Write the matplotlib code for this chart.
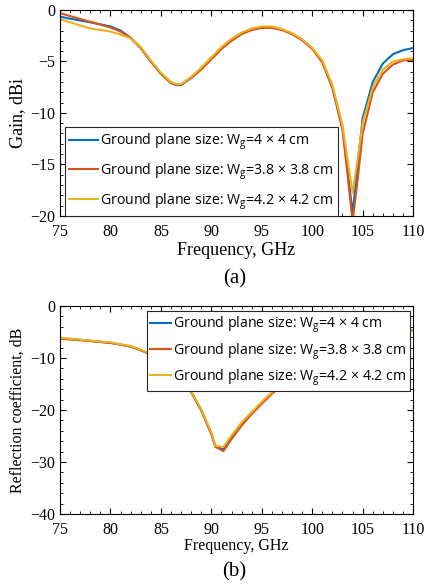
import matplotlib
matplotlib.use("Agg")
import matplotlib.pyplot as plt
from matplotlib.ticker import MultipleLocator

plt.rcParams['font.family'] = ['Liberation Serif', 'DejaVu Serif']
plt.rcParams['mathtext.fontset'] = 'custom'
plt.rcParams['mathtext.rm'] = 'Open Sans'
plt.rcParams['mathtext.it'] = 'Open Sans'

# gain, dBi
freq_gain = [75, 76, 78, 80, 81, 82, 83, 84, 85, 86, 86.5, 87, 88, 89, 90, 91, 92, 93, 94, 95, 96,
             97, 98, 99, 100, 101, 102, 103, 103.5, 104, 104.5, 105, 106, 107, 108, 109, 110]
gain_40 = [-0.65, -0.85, -1.2, -1.6, -2.0, -2.7, -3.7, -5.0, -6.2, -7.1, -7.3, -7.3, -6.6, -5.7, -4.7,
           -3.7, -2.9, -2.3, -1.9, -1.7, -1.7, -1.9, -2.3, -2.9, -3.7, -5.0, -7.5, -11.5, -15.5, -19.8,
           -15.0, -10.5, -7.0, -5.2, -4.3, -3.9, -3.7]
gain_38 = [-0.3, -0.6, -1.15, -1.7, -2.1, -2.7, -3.7, -5.0, -6.2, -7.1, -7.25, -7.25, -6.6, -5.8, -4.8,
           -3.8, -3.0, -2.35, -1.95, -1.75, -1.75, -1.95, -2.35, -2.95, -3.8, -5.1, -7.6, -11.6, -16.0, -20.5,
           -16.5, -12.0, -8.0, -6.2, -5.3, -4.9, -4.85]
gain_42 = [-0.9, -1.2, -1.8, -2.1, -2.4, -2.75, -3.6, -4.9, -6.1, -7.0, -7.2, -7.2, -6.5, -5.6, -4.6,
           -3.6, -2.8, -2.2, -1.8, -1.6, -1.6, -1.85, -2.25, -2.85, -3.7, -4.9, -7.3, -11.2, -14.5, -17.8,
           -14.5, -11.0, -7.5, -5.8, -5.0, -4.8, -4.7]

# reflection coefficient, dB
freq_refl = [75, 77, 80, 82, 83, 85, 86, 87, 88, 89, 90, 90.4, 91.2, 92, 93, 94, 95, 96, 97, 98,
             100, 102, 104, 106, 108, 110]
refl_40 = [-6.2, -6.5, -7.1, -7.8, -8.5, -10.2, -11.8, -14.0, -16.5, -20.0, -24.5, -27.0, -27.6, -25.3,
           -22.7, -20.6, -18.6, -16.7, -15.0, -13.4, -10.6, -8.4, -6.8, -5.7, -5.0, -4.6]
refl_38 = [-6.3, -6.6, -7.1, -7.8, -8.5, -10.2, -11.8, -14.0, -16.6, -20.1, -24.7, -27.1, -27.9, -25.6,
           -23.0, -20.8, -18.8, -16.9, -15.2, -13.6, -10.8, -8.5, -6.9, -5.8, -5.1, -4.7]
refl_42 = [-6.1, -6.5, -7.0, -7.7, -8.4, -10.1, -11.7, -13.9, -16.4, -19.9, -24.3, -26.9, -27.1, -24.9,
           -22.4, -20.4, -18.4, -16.6, -14.9, -13.3, -10.5, -8.3, -6.7, -5.6, -4.9, -4.6]

labels = [r'Ground plane size: W$_\mathrm{g}$=4 × 4 cm',
          r'Ground plane size: W$_\mathrm{g}$=3.8 × 3.8 cm',
          r'Ground plane size: W$_\mathrm{g}$=4.2 × 4.2 cm']
colors = ['#0072BD', '#D95319', '#EDB120']


def style_axes(ax):
    ax.tick_params(which='both', direction='in', top=True, right=True, labelsize=11.5)
    ax.tick_params(axis='x', which='major', pad=6)
    ax.tick_params(which='major', length=4.5)
    ax.tick_params(which='minor', length=2.5)
    ax.xaxis.set_major_locator(MultipleLocator(5))
    ax.xaxis.set_minor_locator(MultipleLocator(1))
    for s in ax.spines.values():
        s.set_linewidth(0.8)


fig = plt.figure(figsize=(4.27, 5.85), dpi=100)

ax1 = fig.add_axes([0.1405, 0.631, 0.827, 0.352])
for y, c, l in zip([gain_40, gain_38, gain_42], colors, labels):
    ax1.plot(freq_gain, y, color=c, lw=1.5, label=l)
ax1.set_xlim(75, 110)
ax1.set_ylim(-20, 0)
ax1.yaxis.set_major_locator(MultipleLocator(5))
ax1.yaxis.set_minor_locator(MultipleLocator(1))
style_axes(ax1)
ax1.set_xlabel('Frequency, GHz', fontsize=13, labelpad=1)
ax1.set_ylabel('Gain, dBi', fontsize=13, labelpad=3)
leg1 = ax1.legend(loc='lower left', bbox_to_anchor=(0.014, 0.0), fancybox=False, framealpha=1,
                  edgecolor='#262626', handlelength=2.0, handletextpad=0.2, borderaxespad=0,
                  borderpad=0.3, labelspacing=0.65, prop={'family': 'Open Sans', 'size': 10.2})
leg1.get_frame().set_linewidth(0.8)
fig.text(0.549, 0.515, '(a)', ha='center', fontsize=15)

ax2 = fig.add_axes([0.1405, 0.1214, 0.827, 0.3556])
for y, c, l in zip([refl_40, refl_38, refl_42], colors, labels):
    ax2.plot(freq_refl, y, color=c, lw=1.5, label=l)
ax2.set_xlim(75, 110)
ax2.set_ylim(-40, 0)
ax2.yaxis.set_major_locator(MultipleLocator(10))
ax2.yaxis.set_minor_locator(MultipleLocator(2))
style_axes(ax2)
ax2.set_xlabel('Frequency, GHz', fontsize=11.5, labelpad=0)
ax2.set_ylabel('Reflection coefficient, dB', fontsize=11.5, labelpad=3)
leg2 = ax2.legend(loc='upper right', bbox_to_anchor=(0.99, 0.975), fancybox=False, framealpha=1,
                  edgecolor='#262626', handlelength=1.5, handletextpad=0.1, borderaxespad=0,
                  borderpad=0.25, labelspacing=0.4, prop={'family': 'Open Sans', 'size': 10.2})
leg2.get_frame().set_linewidth(0.8)
fig.text(0.549, 0.014, '(b)', ha='center', fontsize=15)

fig.savefig('out.png', dpi=100)
